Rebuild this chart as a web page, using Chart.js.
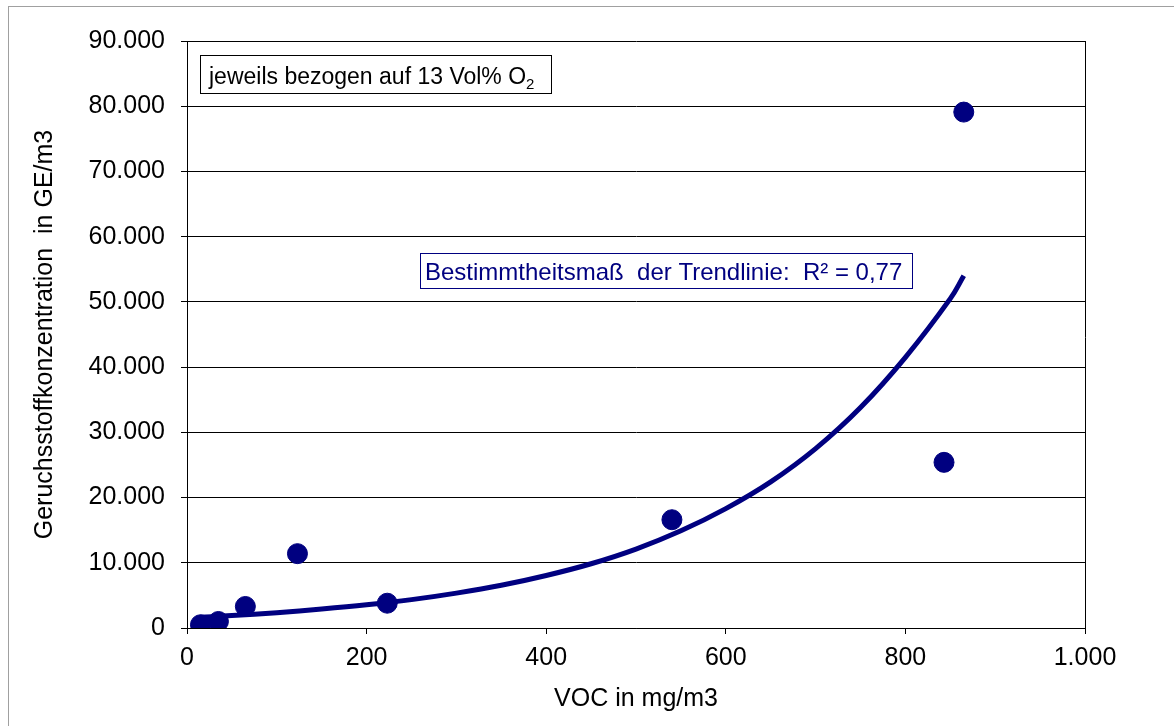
<!DOCTYPE html>
<html>
<head>
<meta charset="utf-8">
<script src="https://cdn.jsdelivr.net/npm/chart.js@4/dist/chart.umd.min.js"></script>
<style>
  html, body { margin: 0; padding: 0; background: #fff; }
  #wrap { width: 1174px; height: 726px; position: relative; }
</style>
</head>
<body>
<div id="wrap"><canvas id="chart" width="1174" height="726"></canvas></div>
<script>
// measured points (VOC mg/m3 vs. GE/m3)
const vocValues = [15, 35, 65, 123, 223, 540, 843, 865];
const odourValues = [500, 1000, 3300, 11400, 3800, 16600, 25400, 79100];

// trend line
const trendX = [15, 50, 100, 150, 200, 250, 300, 350, 400, 450, 500, 550, 600, 650, 700, 750, 800, 850, 865];
const trendY = [1650, 1900, 2350, 2900, 3550, 4350, 5350, 6550, 8050, 9850, 12100, 14900, 18300, 22400, 27500, 33800, 41500, 50500, 54000];

const noteText = 'jeweils bezogen auf 13 Vol% O';
const r2Text = 'Bestimmtheitsmaß  der Trendlinie:  R² = 0,77';

const navy = '#000080';
const fontFam = '"Liberation Sans", Arial, sans-serif';

function fmtDE(v) {
    return String(Math.round(v)).replace(/\B(?=(\d{3})+(?!\d))/g, '.');
}

const boxesPlugin = {
    id: 'boxes',
    beforeDraw(chart) {
        const ctx = chart.ctx;
        ctx.save();
        ctx.fillStyle = '#fff';
        ctx.fillRect(0, 0, chart.width, chart.height);
        ctx.strokeStyle = '#a0a0a0';
        ctx.lineWidth = 1;
        ctx.strokeRect(8.5, 6.5, 1200, 760);
        ctx.restore();
    },
    afterDraw(chart) {
        const ctx = chart.ctx;
        const area = chart.chartArea;
        ctx.save();
        // note box
        ctx.fillStyle = '#fff';
        ctx.fillRect(200, 55, 351, 38);
        ctx.strokeStyle = '#000';
        ctx.lineWidth = 1;
        ctx.strokeRect(200.5, 55.5, 351, 38);
        ctx.fillStyle = '#000';
        ctx.font = '23px ' + fontFam;
        ctx.textBaseline = 'alphabetic';
        ctx.fillText(noteText, 209, 84);
        const w = ctx.measureText(noteText).width;
        ctx.font = '15px ' + fontFam;
        ctx.fillText('2', 209 + w, 89);
        // R² box
        ctx.fillStyle = '#fff';
        ctx.fillRect(420, 253, 492, 35);
        ctx.strokeStyle = navy;
        ctx.strokeRect(420.5, 253.5, 492, 35);
        ctx.fillStyle = navy;
        ctx.font = '24px ' + fontFam;
        ctx.fillText(r2Text, 425, 280);
        // right border of plot
        ctx.strokeStyle = '#000';
        ctx.beginPath();
        ctx.moveTo(Math.round(area.right) + 0.5, area.top);
        ctx.lineTo(Math.round(area.right) + 0.5, area.bottom + 6);
        ctx.stroke();
        ctx.restore();
    }
};

const ctx = document.getElementById('chart').getContext('2d');
new Chart(ctx, {
    type: 'scatter',
    data: {
        datasets: [{
            label: 'Messwerte',
            data: vocValues.map((x, i) => ({ x: x, y: odourValues[i] })),
            backgroundColor: navy,
            borderColor: navy,
            pointRadius: 10,
            pointHoverRadius: 10,
            order: 0
        }, {
            label: 'Trend',
            data: trendX.map((x, i) => ({ x: x, y: trendY[i] })),
            showLine: true,
            borderColor: navy,
            borderWidth: 5,
            pointRadius: 0,
            tension: 0.4,
            order: 1
        }]
    },
    options: {
        responsive: false,
        animation: false,
        layout: { padding: { left: 10, top: 41, right: 89, bottom: 12 } },
        plugins: {
            legend: { display: false },
            tooltip: { enabled: false }
        },
        scales: {
            x: {
                type: 'linear',
                min: 0,
                max: 1000,
                afterFit(scale) { scale.height = 86; },
                ticks: {
                    stepSize: 200,
                    padding: 9,
                    color: '#000',
                    font: { family: fontFam, size: 25 },
                    callback: v => fmtDE(v)
                },
                grid: { display: true, drawOnChartArea: false, tickLength: 6, color: '#000' },
                border: { color: '#000' },
                title: {
                    display: true,
                    text: 'VOC in mg/m3',
                    color: '#000',
                    font: { family: fontFam, size: 25 },
                    padding: { top: 18, bottom: 0 }
                }
            },
            y: {
                min: 0,
                max: 90000,
                afterFit(scale) { scale.width = 177; },
                ticks: {
                    stepSize: 10000,
                    padding: 16,
                    color: '#000',
                    font: { family: fontFam, size: 25 },
                    callback: v => fmtDE(v)
                },
                grid: { color: '#000', tickLength: 6 },
                border: { color: '#000' },
                title: {
                    display: true,
                    text: 'Geruchsstoffkonzentration  in GE/m3',
                    color: '#000',
                    font: { family: fontFam, size: 25 },
                    padding: { top: 20, bottom: 0 }
                }
            }
        }
    },
    plugins: [boxesPlugin]
});
</script>
</body>
</html>
